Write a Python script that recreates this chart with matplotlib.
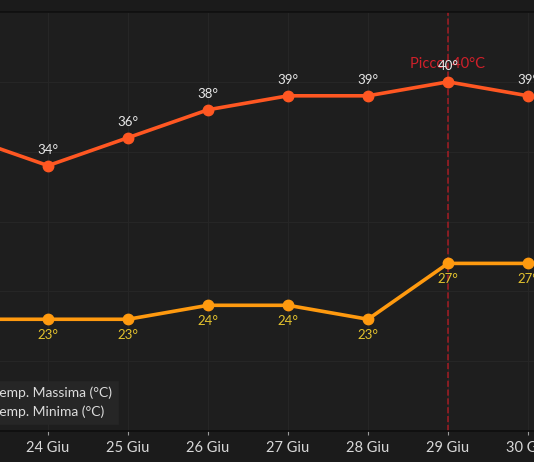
import numpy as np
import matplotlib
matplotlib.use("Agg")
import matplotlib.pyplot as plt

plt.rcParams["font.family"] = ["Lato", "DejaVu Sans"]

days = ["23 Giu", "24 Giu", "25 Giu", "26 Giu", "27 Giu", "28 Giu", "29 Giu", "30 Giu"]
t_max = [36, 34, 36, 38, 39, 39, 40, 39]
t_min = [23, 23, 23, 24, 24, 23, 27, 27]

BG = "#1e1e1e"
C_MAX = "#ff5722"
C_MIN = "#ff9a0f"
C_MINLAB = "#e3c22e"
C_PEAK = "#d0202a"

fig = plt.figure(figsize=(5.34, 4.62), dpi=100, facecolor="#1b1b1b")
# axes wider than the picture: the view is a crop of a larger chart
ax = fig.add_axes([-60 / 534, 1 - 431 / 462, 680 / 534, 419 / 462])
ax.set_facecolor(BG)

x = np.arange(len(days))
ax.plot(x, t_max, color=C_MAX, lw=2.6, marker="o", ms=7.5, label="Temp. Massima (°C)", zorder=3)
ax.plot(x, t_min, color=C_MIN, lw=2.6, marker="o", ms=7.5, label="Temp. Minima (°C)", zorder=3)

for xi, v in zip(x, t_max):
    ax.annotate(f"{v}°", (xi, v), xytext=(0, 11.5), textcoords="offset points",
                ha="center", va="center", color="#e8e8e8", fontsize=9.5, zorder=5)
for xi, v in zip(x, t_min):
    ax.annotate(f"{v}°", (xi, v), xytext=(0, -11), textcoords="offset points",
                ha="center", va="center", color=C_MINLAB, fontsize=9.5, zorder=5)

ip = int(np.argmax(t_max))
ax.axvline(ip, color="#b01c24", ls="--", lw=1.2, alpha=0.85, zorder=2)
ax.annotate(f"Picco: {t_max[ip]}°C", (ip, t_max[ip]), xytext=(0, 13), textcoords="offset points",
            ha="center", va="center", color=C_PEAK, fontsize=10.5, zorder=4)

ax.set_xlim(-0.35, 8.15)
ax.set_ylim(15, 45)
ax.set_xticks(x)
ax.set_xticklabels(days)
ax.set_yticks(np.arange(15, 46, 5))
ax.tick_params(axis="x", colors="#9a9a9a", labelcolor="#d8d8d8", labelsize=10.5, length=3, pad=4)
ax.tick_params(axis="y", left=False, labelleft=False)
ax.grid(True, color="#262626", lw=0.8)
ax.set_axisbelow(True)
for s in ax.spines.values():
    s.set_color("#0e0e0e")
    s.set_linewidth(1.2)

leg = ax.legend(loc="lower left", fontsize=10, facecolor="#262626", edgecolor="#262626",
                framealpha=1, labelcolor="#dcdcdc", fancybox=False)
leg.get_frame().set_linewidth(0.5)

fig.savefig("out.png", dpi=100, facecolor=fig.get_facecolor())
